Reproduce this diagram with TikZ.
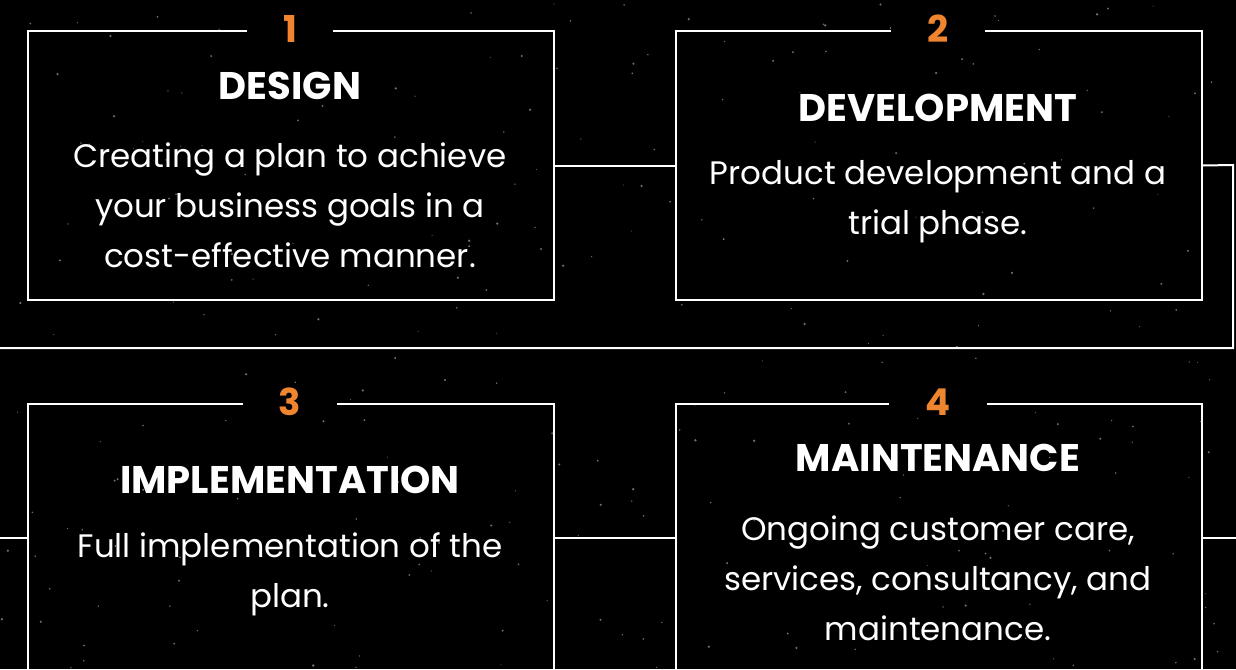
\documentclass[tikz,border=0pt]{standalone}
\usepackage{fontspec}
\setmainfont{Poppins}
\usetikzlibrary{positioning}
\definecolor{steporange}{RGB}{240,133,48}
\definecolor{stardust}{RGB}{110,110,110}

\begin{document}
\begin{tikzpicture}[x=1pt,y=-1pt]
\tikzset{
  stagebox/.style={draw=white, line width=2pt, minimum width=526pt, inner sep=0pt, anchor=north west},
  stagenum/.style={fill=black, text=steporange, font=\fontsize{37}{37}\selectfont\bfseries, inner xsep=36pt, inner ysep=0pt},
  stagetitle/.style={text=white, font=\fontsize{38.5}{38.5}\selectfont\bfseries, inner sep=0pt},
  stagetext/.style={text=white, font=\fontsize{32.5}{50}\selectfont, align=center, inner sep=0pt},
  link/.style={draw=white, line width=2pt}
}
% background and stars
\fill [black] (0,0) rectangle (1236,669);
\useasboundingbox (0,0) rectangle (1236,669);
\pgfmathsetseed{42}
\foreach \i in {1,...,260}
  \fill [stardust] ({1236*rnd},{669*rnd}) circle ({0.5+0.8*rnd});
% boxes
\node [stagebox, minimum height=269pt] (design) at (27,30) {};
\node [stagebox, minimum height=269pt] (devel) at (675,30) {};
\node [stagebox, minimum height=300pt] (impl) at (27,403) {};
\node [stagebox, minimum height=300pt] (maint) at (675,403) {};
% connectors
\coordinate (turnA) at (1233,165);
\coordinate (turnB) at (1233,348);
\coordinate (leftB) at (0,348);
\coordinate (leftC) at (0,538);
\coordinate (rightD) at (1236,538);
\draw [link] (design.east) -- (devel.west);
\draw [link] (devel.east) -- (turnA) -- (turnB) -- (leftB);
\draw [link] (leftC) -- (impl.west |- leftC);
\draw [link] (impl.east |- leftC) -- (maint.west |- leftC);
\draw [link] (maint.east |- leftC) -- (rightD);
% numbers
\node [stagenum] (n1) at (290,29) {1};
\node [stagenum] (n2) at (938,29) {2};
\node [stagenum] (n3) at (290,402) {3};
\node [stagenum] (n4) at (938,402) {4};
% texts
\node [stagetitle] (t1) at (290,86) {DESIGN};
\node [stagetext] (b1) at (290,205) {Creating a plan to achieve\\your business goals in a\\cost-effective manner.};
\node [stagetitle] (t2) at (938,108) {DEVELOPMENT};
\node [stagetext] (b2) at (938,202) {Product development and a\\trial phase.};
\node [stagetitle] (t3) at (290,480) {IMPLEMENTATION};
\node [stagetext] (b3) at (290,574) {Full implementation of the\\plan.};
\node [stagetitle] (t4) at (938,458) {MAINTENANCE};
\node [stagetext] (b4) at (938,578) {Ongoing customer care,\\services, consultancy, and\\maintenance.};
\end{tikzpicture}
\end{document}
